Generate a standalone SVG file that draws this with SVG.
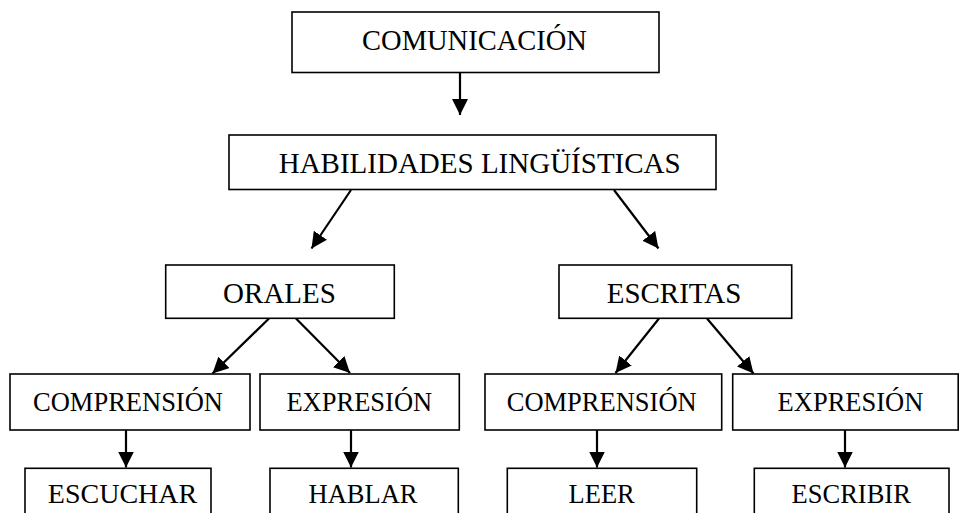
<svg xmlns="http://www.w3.org/2000/svg" width="959" height="513" viewBox="0 0 959 513">
<style>
.box{fill:#fff;stroke:#000;stroke-width:1.6}
.t{font-family:"Liberation Serif","Times New Roman",serif;fill:#000;text-anchor:middle}
.l1{font-size:28.5px}
.l2{font-size:29px}
.l3{font-size:26.5px}
.l4{font-size:28px}
.c{stroke:#000;stroke-width:2.2;fill:none;marker-end:url(#ah)}
</style>
<defs>
<marker id="ah" viewBox="0 0 16 16" refX="16" refY="8" markerWidth="16" markerHeight="16" markerUnits="userSpaceOnUse" orient="auto">
<path d="M0,0 L16,8 L0,16 z" fill="#000"/>
</marker>
</defs>
<rect width="959" height="513" fill="#fff"/>
<g id="connectors">
<line class="c" x1="460" y1="73" x2="460" y2="115"/>
<line class="c" x1="351" y1="190" x2="311.5" y2="248.5"/>
<line class="c" x1="614" y1="190" x2="658.5" y2="248.5"/>
<line class="c" x1="269" y1="318.5" x2="212.5" y2="373.5"/>
<line class="c" x1="296" y1="318.5" x2="350" y2="373"/>
<line class="c" x1="659" y1="318.5" x2="615.5" y2="373"/>
<line class="c" x1="707" y1="318.5" x2="753.5" y2="373.5"/>
<line class="c" x1="126" y1="430" x2="126" y2="467.5"/>
<line class="c" x1="351" y1="430" x2="351" y2="467.5"/>
<line class="c" x1="597" y1="430" x2="597" y2="467.5"/>
<line class="c" x1="845" y1="430" x2="845" y2="467.5"/>
</g>
<g id="comunicacion">
<rect class="box" x="292" y="12" width="367" height="60.5"/>
<text class="t l1" x="474.5" y="50">COMUNICACIÓN</text>
</g>
<g id="habilidades">
<rect class="box" x="229" y="135" width="487" height="54.5"/>
<text class="t l2" x="479.7" y="173.3">HABILIDADES LINGÜÍSTICAS</text>
</g>
<g id="orales">
<rect class="box" x="165.7" y="265" width="228.6" height="53.3"/>
<text class="t l2" x="279.5" y="303.3">ORALES</text>
</g>
<g id="escritas">
<rect class="box" x="559" y="265" width="232.7" height="53.3"/>
<text class="t l2" x="674" y="303.3">ESCRITAS</text>
</g>
<g id="comprension-oral">
<rect class="box" x="10" y="374" width="240" height="56"/>
<text class="t l3" x="128" y="410.5">COMPRENSIÓN</text>
</g>
<g id="expresion-oral">
<rect class="box" x="260" y="374" width="199.3" height="56"/>
<text class="t l3" x="359.3" y="410.5">EXPRESIÓN</text>
</g>
<g id="comprension-escrita">
<rect class="box" x="485" y="374" width="236.7" height="56"/>
<text class="t l3" x="601.7" y="410.5">COMPRENSIÓN</text>
</g>
<g id="expresion-escrita">
<rect class="box" x="732.7" y="374" width="225.5" height="56"/>
<text class="t l3" x="850.5" y="410.5">EXPRESIÓN</text>
</g>
<g id="escuchar">
<rect class="box" x="25" y="468.3" width="186" height="70"/>
<text class="t l4" x="122.5" y="503">ESCUCHAR</text>
</g>
<g id="hablar">
<rect class="box" x="270" y="468.3" width="188.3" height="70"/>
<text class="t l3" x="363" y="503">HABLAR</text>
</g>
<g id="leer">
<rect class="box" x="507.3" y="468.3" width="189.4" height="70"/>
<text class="t l3" x="601.7" y="503">LEER</text>
</g>
<g id="escribir">
<rect class="box" x="754.3" y="468.3" width="194.7" height="70"/>
<text class="t l3" x="851.2" y="503">ESCRIBIR</text>
</g>
</svg>
